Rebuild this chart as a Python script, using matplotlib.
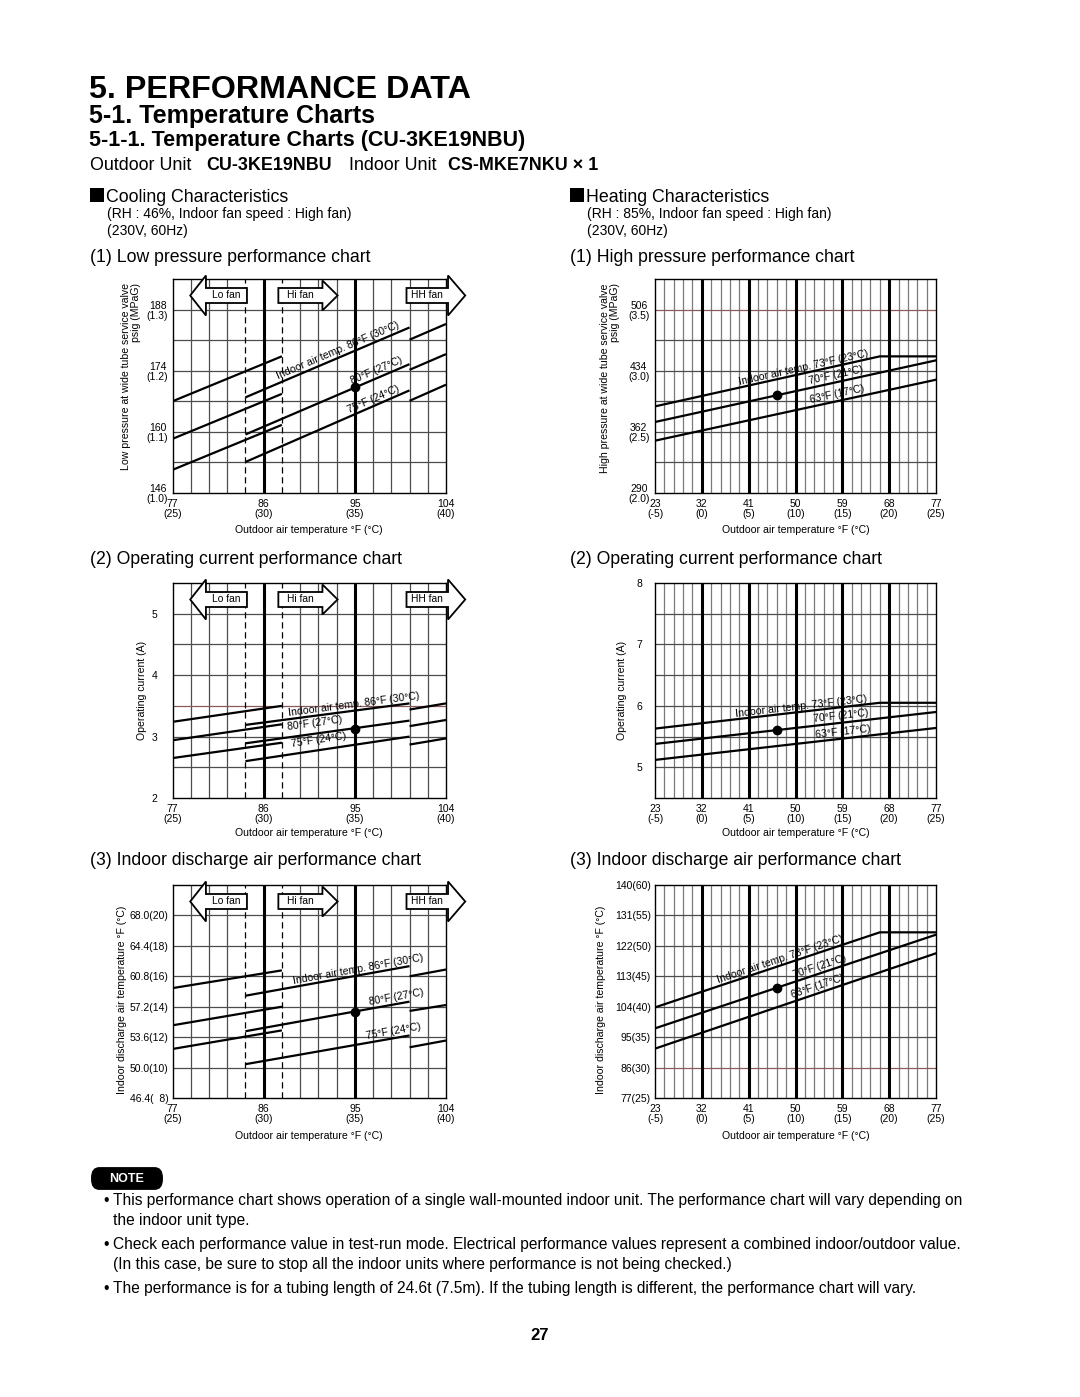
import numpy as np
import matplotlib
matplotlib.use("Agg")
import matplotlib.pyplot as plt
from matplotlib import transforms
from matplotlib.patches import Polygon, Rectangle, FancyBboxPatch

plt.rcParams['font.family'] = ['Liberation Sans', 'DejaVu Sans']

# ---------------- data ----------------
# Cooling: outdoor air temperature axis (°F)
cool_xticks = [77, 86, 95, 104]
cool_xticklabels = ["77\n(25)", "86\n(30)", "95\n(35)", "104\n(40)"]
cool_labels = ["Indoor air temp. 86°F (30°C)", "80°F (27°C)", "75°F (24°C)"]
seg_lo_x = [77.0, 87.8]     # Lo fan range
seg_hi_x = [84.2, 100.4]    # Hi fan range
seg_hh_x = [100.4, 104.0]   # HH fan range

# Low pressure (psig) for indoor 86/80/75 °F
lp_lo = [[167.0, 177.3], [158.4, 168.7], [151.3, 161.6]]
lp_hi = [[167.9, 183.9], [159.4, 175.5], [153.1, 169.5]]
lp_hh = [[181.1, 184.7], [174.2, 177.8], [167.1, 170.8]]
lp_point = [95.0, 170.2]
lp_yticks = [146, 160, 174, 188]
lp_yticklabels = ["146\n(1.0)", "160\n(1.1)", "174\n(1.2)", "188\n(1.3)"]

# Operating current (A), cooling
cc_lo = [[3.24, 3.50], [2.94, 3.20], [2.65, 2.90]]
cc_hi = [[3.19, 3.54], [2.89, 3.26], [2.60, 3.00]]
cc_hh = [[3.44, 3.54], [3.17, 3.27], [2.87, 2.97]]
cc_point = [95.0, 3.13]
cc_yticks = [2, 3, 4, 5]
cc_yticklabels = ["2", "3", "4", "5"]

# Indoor discharge air (°F), cooling
cd_lo = [[59.4, 61.5], [55.0, 57.2], [52.2, 54.4]]
cd_hi = [[58.5, 62.0], [54.3, 57.8], [50.4, 53.8]]
cd_hh = [[60.8, 61.6], [56.7, 57.4], [52.4, 53.2]]
cd_point = [95.0, 56.6]
cd_yticks = [46.4, 50.0, 53.6, 57.2, 60.8, 64.4, 68.0]
cd_yticklabels = ["46.4(  8)", "50.0(10)", "53.6(12)", "57.2(14)", "60.8(16)", "64.4(18)", "68.0(20)"]

# Heating: outdoor air temperature axis (°F)
heat_xticks = [23, 32, 41, 50, 59, 68, 77]
heat_xticklabels = ["23\n(-5)", "32\n(0)", "41\n(5)", "50\n(10)", "59\n(15)", "68\n(20)", "77\n(25)"]
heat_labels = ["Indoor air temp. 73°F (23°C)", "70°F (21°C)", "63°F (17°C)"]
heat_x_73 = [23.0, 66.2, 77.0]
heat_x = [23.0, 77.0]

hp_73 = [392.0, 450.9, 450.9]
hp_70 = [373.6, 446.2]
hp_63 = [351.6, 423.4]
hp_point = [46.5, 405.0]
hp_yticks = [290, 362, 434, 506]
hp_yticklabels = ["290\n(2.0)", "362\n(2.5)", "434\n(3.0)", "506\n(3.5)"]

hc_73 = [5.63, 6.05, 6.05]
hc_70 = [5.38, 5.90]
hc_63 = [5.12, 5.64]
hc_point = [46.5, 5.61]
hc_yticks = [5, 6, 7, 8]
hc_yticklabels = ["5", "6", "7", "8"]

hd_73 = [103.8, 126.0, 126.0]
hd_70 = [97.6, 125.3]
hd_63 = [91.6, 119.8]
hd_point = [46.5, 109.6]
hd_yticks = [77, 86, 95, 104, 113, 122, 131, 140]
hd_yticklabels = ["77(25)", "86(30)", "95(35)", "104(40)", "113(45)", "122(50)", "131(55)", "140(60)"]

# ---------------- figure ----------------
W, H = 1080, 1397
fig = plt.figure(figsize=(W / 100, H / 100), dpi=100)
fig.patch.set_facecolor('white')

TICK_FS = 7.5
LAB_FS = 7.6
RED = '#8b5a5a'
LINE_W = 1.6


def add_ax(l, t, r, b):
    return fig.add_axes([l / W, 1 - b / H, (r - l) / W, (b - t) / H])


def ftext(x, y, s, **kw):
    return fig.text(x / W, 1 - y / H, s, **kw)


def setup(ax, xlim, ylim, ygrid, thick, dashed, thin_color, xticks, xtl, yticks, ytl,
          ypad, red=()):
    ax.set_xlim(xlim)
    ax.set_ylim(ylim)
    n = int(round((xlim[1] - xlim[0]) / 1.8))
    for i in range(1, n):
        x = xlim[0] + 1.8 * i
        if any(abs(x - t) < 1e-6 for t in thick):
            ax.axvline(x, color='black', lw=2.2, zorder=2)
        elif any(abs(x - d) < 1e-6 for d in dashed):
            ax.axvline(x, color='black', lw=0.9, ls=(0, (5, 3)), zorder=2)
        else:
            ax.axvline(x, color=thin_color, lw=0.9, zorder=1)
    for y in ygrid:
        c = RED if any(abs(y - r) < 1e-6 for r in red) else '#4d4d4d'
        ax.axhline(y, color=c, lw=0.9, zorder=1)
    for s in ax.spines.values():
        s.set_linewidth(1.0)
        s.set_color('black')
    ax.set_xticks(xticks, xtl)
    ax.set_yticks(yticks, ytl)
    ax.tick_params(axis='x', length=0, pad=4, labelsize=TICK_FS)
    ax.tick_params(axis='y', length=0, pad=ypad, labelsize=TICK_FS)
    for lb in ax.get_xticklabels():
        lb.set_linespacing(1.0)
        lb.set_multialignment('center')
    for lb in ax.get_yticklabels():
        lb.set_linespacing(1.0)
        lb.set_multialignment('center')


def label_on_line(ax, xs, ys, xc, text, gap=1.5):
    x0, x1, y0, y1 = xs[0], xs[1], ys[0], ys[1]
    p0 = ax.transData.transform((x0, y0))
    p1 = ax.transData.transform((x1, y1))
    ang = np.degrees(np.arctan2(p1[1] - p0[1], p1[0] - p0[0]))
    yc = y0 + (y1 - y0) * (xc - x0) / (x1 - x0)
    th = np.radians(ang)
    tr = transforms.offset_copy(ax.transData, fig=fig, x=-np.sin(th) * gap,
                                y=np.cos(th) * gap, units='dots')
    ax.text(xc, yc, text, transform=tr, rotation=ang, rotation_mode='anchor',
            ha='center', va='bottom', fontsize=LAB_FS, zorder=5, clip_on=False)


def fan_arrow(ax, x_tail, x_base, x_tip, head_half, text):
    ytop = ax.transAxes.transform((0, 1))[1]
    yc = ytop - 16.5
    xt = ax.transData.transform((x_tail, 0))[0]
    xb = ax.transData.transform((x_base, 0))[0]
    xp = ax.transData.transform((x_tip, 0))[0]
    bh = 7.5
    verts = [(xt, yc + bh), (xb, yc + bh), (xb, yc + head_half), (xp, yc),
             (xb, yc - head_half), (xb, yc - bh), (xt, yc - bh)]
    fw, fh = fig.bbox.width, fig.bbox.height
    vf = [(vx / fw, vy / fh) for vx, vy in verts]
    fig.add_artist(Polygon(vf, closed=True, transform=fig.transFigure,
                           fc='white', ec='black', lw=1.3, zorder=2))
    fig.text((xt + xb) / 2 / fw, yc / fh, text, ha='center', va='center',
             fontsize=7.4, zorder=3)


def cooling_chart(ax, lo, hi, hh, point, ylim, ygrid, yticks, ytl, ypad, label_x, gaps, red=()):
    setup(ax, (77, 104), ylim, ygrid, [86, 95], [84.2, 87.8], '#4d4d4d',
          cool_xticks, cool_xticklabels, yticks, ytl, ypad, red)
    for k in range(3):
        ax.plot(seg_lo_x, lo[k], color='black', lw=LINE_W, zorder=4, solid_capstyle='butt')
        ax.plot(seg_hi_x, hi[k], color='black', lw=LINE_W, zorder=4, solid_capstyle='butt')
        ax.plot(seg_hh_x, hh[k], color='black', lw=LINE_W, zorder=4, solid_capstyle='butt')
        label_on_line(ax, seg_hi_x, hi[k], label_x[k], cool_labels[k], gaps[k])
    ax.plot([point[0]], [point[1]], 'o', color='black', ms=6, zorder=6)
    fan_arrow(ax, 84.35, 80.3, 78.75, 20, "Lo fan")
    fan_arrow(ax, 87.45, 91.8, 93.3, 15, "Hi fan")
    fan_arrow(ax, 100.1, 104.2, 105.9, 20, "HH fan")


def heating_chart(ax, l73, l70, l63, point, ylim, ygrid, yticks, ytl, ypad, label_x, gaps, red=()):
    setup(ax, (23, 77), ylim, ygrid, [32, 41, 50, 59, 68], [], '#7a7a7a',
          heat_xticks, heat_xticklabels, yticks, ytl, ypad, red)
    ax.plot(heat_x_73, l73, color='black', lw=LINE_W, zorder=4)
    ax.plot(heat_x, l70, color='black', lw=LINE_W, zorder=4)
    ax.plot(heat_x, l63, color='black', lw=LINE_W, zorder=4)
    label_on_line(ax, heat_x_73[:2], l73[:2], label_x[0], heat_labels[0], gaps[0])
    label_on_line(ax, heat_x, l70, label_x[1], heat_labels[1], gaps[1])
    label_on_line(ax, heat_x, l63, label_x[2], heat_labels[2], gaps[2])
    ax.plot([point[0]], [point[1]], 'o', color='black', ms=6, zorder=6)


CL, CR = 172.5, 446
HL, HR = 655, 936
ROWS = [(279, 493), (583, 798), (885, 1098)]

# Cooling charts
ax1 = add_ax(CL, ROWS[0][0], CR, ROWS[0][1])
cooling_chart(ax1, lp_lo, lp_hi, lp_hh, lp_point, (146, 195), np.arange(153, 195, 7),
              lp_yticks, lp_yticklabels, 3, [93.6, 97.4, 97.1], [1.5, 2.5, 1.5])
ax2 = add_ax(CL, ROWS[1][0], CR, ROWS[1][1])
cooling_chart(ax2, cc_lo, cc_hi, cc_hh, cc_point, (2, 5.5), np.arange(2.5, 5.01, 0.5),
              cc_yticks, cc_yticklabels, 11, [95.0, 91.2, 91.6], [1.5, 5, 5.5], red=[3.5])
ax3 = add_ax(CL, ROWS[2][0], CR, ROWS[2][1])
cooling_chart(ax3, cd_lo, cd_hi, cd_hh, cd_point, (46.4, 71.6), np.arange(50.0, 68.01, 3.6),
              cd_yticks, cd_yticklabels, 3, [95.4, 99.2, 98.9], [1.5, 1.5, 1.5])

# Heating charts
ax4 = add_ax(HL, ROWS[0][0], HR, ROWS[0][1])
heating_chart(ax4, hp_73, hp_70, hp_63, hp_point, (290, 542), np.arange(326, 542, 36),
              hp_yticks, hp_yticklabels, 4, [51.7, 58.1, 58.3], [0.5, 1.5, 2], red=[506])
ax5 = add_ax(HL, ROWS[1][0], HR, ROWS[1][1])
heating_chart(ax5, hc_73, hc_70, hc_63, hc_point, (4.5, 8), np.arange(5.0, 7.51, 0.5),
              hc_yticks, hc_yticklabels, 9, [51.3, 58.9, 59.2], [0.5, 1.5, 1.5])
ax6 = add_ax(HL, ROWS[2][0], HR, ROWS[2][1])
heating_chart(ax6, hd_73, hd_70, hd_63, hd_point, (77, 140), np.arange(86, 140, 9),
              hd_yticks, hd_yticklabels, 3, [47.4, 55.1, 54.7], [1, 1.5, 1.5], red=[86])

# Axis titles
xl = "Outdoor air temperature °F (°C)"
for cx in [(CL + CR) / 2, (HL + HR) / 2]:
    for yy in [530, 833, 1136]:
        ftext(cx, yy, xl, ha='center', va='center', fontsize=LAB_FS)

ftext(131, 377, "Low pressure at wide tube service valve\npsig (MPaG)", rotation=90,
      ha='center', va='center', multialignment='right', fontsize=LAB_FS, linespacing=1.1)
ftext(610, 378, "High pressure at wide tube service valve\npsig (MPaG)", rotation=90,
      ha='center', va='center', multialignment='right', fontsize=LAB_FS, linespacing=1.1)
ftext(142, 690, "Operating current (A)", rotation=90, ha='center', va='center', fontsize=LAB_FS)
ftext(622, 690, "Operating current (A)", rotation=90, ha='center', va='center', fontsize=LAB_FS)
ftext(122, 1000, "Indoor discharge air temperature °F (°C)", rotation=90, ha='center',
      va='center', fontsize=LAB_FS)
ftext(601, 1000, "Indoor discharge air temperature °F (°C)", rotation=90, ha='center',
      va='center', fontsize=LAB_FS)

# Header texts
ftext(89, 98, "5. PERFORMANCE DATA", fontsize=23.2, fontweight='bold', va='baseline')
ftext(89, 123, "5-1. Temperature Charts", fontsize=18, fontweight='bold', va='baseline')
ftext(89, 146, "5-1-1. Temperature Charts (CU-3KE19NBU)", fontsize=15.5, fontweight='bold',
      va='baseline')
ftext(90, 170, "Outdoor Unit", fontsize=12.9, va='baseline')
ftext(206, 170, "CU-3KE19NBU", fontsize=12.9, fontweight='bold', va='baseline')
ftext(349, 170, "Indoor Unit", fontsize=12.9, va='baseline')
ftext(448, 170, "CS-MKE7NKU × 1", fontsize=12.9, fontweight='bold', va='baseline')

for x0, title, rh, chart1 in [
        (90, "Cooling Characteristics", "(RH : 46%, Indoor fan speed : High fan)",
         "(1) Low pressure performance chart"),
        (570, "Heating Characteristics", "(RH : 85%, Indoor fan speed : High fan)",
         "(1) High pressure performance chart")]:
    fig.add_artist(Rectangle((x0 / W, 1 - 202 / H), 14 / W, 14 / H, transform=fig.transFigure,
                             fc='black', ec='none'))
    ftext(x0 + 16, 202, title, fontsize=12.8, va='baseline')
    ftext(x0 + 17, 218, rh, fontsize=10, va='baseline')
    ftext(x0 + 17, 235, "(230V, 60Hz)", fontsize=10, va='baseline')
    ftext(x0, 262, chart1, fontsize=12.7, va='baseline')
    ftext(x0, 564, "(2) Operating current performance chart", fontsize=12.7, va='baseline')
    ftext(x0, 865, "(3) Indoor discharge air performance chart", fontsize=12.7, va='baseline')

# NOTE badge
fig.add_artist(FancyBboxPatch((95 / W, 1 - 1185 / H), 64 / W, 13 / H,
                              boxstyle='round,pad=0.003,rounding_size=0.007',
                              transform=fig.transFigure, fc='black', ec='black', zorder=2))
ftext(127, 1178.5, "NOTE", fontsize=9, fontweight='bold', color='white', ha='center',
      va='center', zorder=3)

notes = [
    (1201, "This performance chart shows operation of a single wall-mounted indoor unit. The performance chart will vary depending on", True),
    (1220, "the indoor unit type.", False),
    (1245, "Check each performance value in test-run mode. Electrical performance values represent a combined indoor/outdoor value.", True),
    (1264, "(In this case, be sure to stop all the indoor units where performance is not being checked.)", False),
    (1289, "The performance is for a tubing length of 24.6t (7.5m). If the tubing length is different, the performance chart will vary.", True),
]
for yy, s, bullet in notes:
    if bullet:
        ftext(103, yy, "•", fontsize=11.2, va='center')
    ftext(113, yy, s, fontsize=11.2, va='center')

ftext(540, 1336, "27", fontsize=12, fontweight='bold', ha='center', va='center')

fig.savefig("out.png", dpi=100, facecolor='white')
